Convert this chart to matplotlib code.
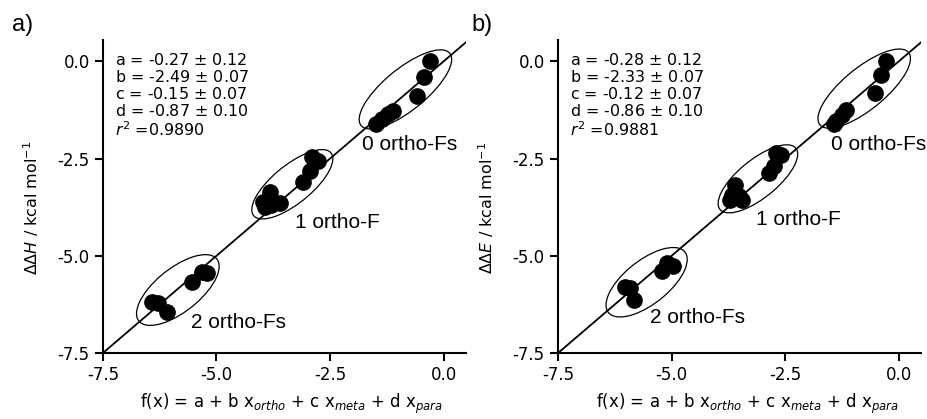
import matplotlib
matplotlib.use("Agg")
import matplotlib.pyplot as plt
import numpy as np
from matplotlib.patches import Ellipse

plt.rcParams['axes.unicode_minus'] = False
plt.rcParams['font.family'] = 'DejaVu Sans'

# fitted f(x) vs computed ddH (panel a)
fx_H = [-0.29, -0.44, -0.59, -1.12, -1.22, -1.35, -1.48,
        -2.90, -2.77, -2.95, -3.10, -3.83, -3.98, -3.79, -3.61, -3.94,
        -5.32, -5.21, -5.54, -6.42, -6.28, -6.09]
ddH = [0.02, -0.39, -0.88, -1.27, -1.36, -1.47, -1.60,
       -2.47, -2.57, -2.83, -3.09, -3.35, -3.61, -3.69, -3.63, -3.74,
       -5.41, -5.44, -5.67, -6.19, -6.21, -6.44]

# fitted f(x) vs computed ddE (panel b)
fx_E = [-0.27, -0.38, -0.53, -1.15, -1.24, -1.39, -1.43,
        -2.71, -2.60, -2.75, -2.86, -3.60, -3.67, -3.52, -3.71, -3.45,
        -5.10, -4.96, -5.21, -6.02, -5.91, -5.82]
ddE = [0.02, -0.34, -0.82, -1.24, -1.37, -1.54, -1.60,
       -2.35, -2.42, -2.70, -2.87, -3.17, -3.43, -3.47, -3.56, -3.56,
       -5.19, -5.26, -5.40, -5.79, -5.83, -6.13]

fit_H = ['a = -0.27 $\\pm$ 0.12', 'b = -2.49 $\\pm$ 0.07',
         'c = -0.15 $\\pm$ 0.07', 'd = -0.87 $\\pm$ 0.10', '$r^2$ =0.9890']
fit_E = ['a = -0.28 $\\pm$ 0.12', 'b = -2.33 $\\pm$ 0.07',
         'c = -0.12 $\\pm$ 0.07', 'd = -0.86 $\\pm$ 0.10', '$r^2$ =0.9881']

groups = ['0 ortho-Fs', '1 ortho-F', '2 ortho-Fs']
ticks = [-7.5, -5.0, -2.5, 0.0]

# group ellipses (cx, cy, long axis, short axis) and label anchors
ell_H = [(-0.84, -0.72, 2.70, 1.00), (-3.33, -3.16, 2.35, 0.92), (-5.85, -5.88, 2.35, 1.05)]
ell_E = [(-0.76, -0.70, 2.70, 1.00), (-3.10, -3.02, 2.30, 0.92), (-5.55, -5.68, 2.30, 1.05)]
lab_H = [(-1.80, -2.29), (-3.28, -4.28), (-5.57, -6.86)]
lab_E = [(-1.50, -2.29), (-3.15, -4.20), (-5.47, -6.73)]

xlabel = 'f(x) = a + b x$_{ortho}$ + c x$_{meta}$ + d x$_{para}$'

fig = plt.figure(figsize=(9.27, 4.19), dpi=100)
ax1 = fig.add_axes([0.111, 0.1575, 0.392, 0.747])
ax2 = fig.add_axes([0.602, 0.1575, 0.392, 0.747])

panels = [(ax1, fx_H, ddH, fit_H, ell_H, lab_H, '$\\Delta\\Delta H$ / kcal mol$^{-1}$'),
          (ax2, fx_E, ddE, fit_E, ell_E, lab_E, '$\\Delta\\Delta E$ / kcal mol$^{-1}$')]

for ax, x, y, fit, ells, labs, ylab in panels:
    lim = np.array([-7.5, 0.5])
    ax.plot(lim, lim, color='black', lw=1.3, zorder=1)
    ax.plot(x, y, 'o', color='black', ms=11, zorder=3)
    for cx, cy, w, h in ells:
        ax.add_patch(Ellipse((cx, cy), w, h, angle=45, fill=False,
                             ec='black', lw=0.9, zorder=2))
    for (tx, ty), g in zip(labs, groups):
        ax.text(tx, ty, g, fontsize=15, family='Liberation Sans',
                ha='left', va='baseline')
    ax.text(0.033, 0.962, '\n'.join(fit), transform=ax.transAxes,
            fontsize=11.4, va='top', ha='left', linespacing=1.08)
    ax.set_xlim(-7.5, 0.5)
    ax.set_ylim(-7.5, 0.55)
    ax.set_xticks(ticks)
    ax.set_yticks(ticks)
    ax.xaxis.set_major_formatter(matplotlib.ticker.FormatStrFormatter('%.1f'))
    ax.yaxis.set_major_formatter(matplotlib.ticker.FormatStrFormatter('%.1f'))
    ax.tick_params(labelsize=12, width=1.5, length=6, direction='out')
    for s in ['top', 'right']:
        ax.spines[s].set_visible(False)
    for s in ['left', 'bottom']:
        ax.spines[s].set_linewidth(1.5)
    ax.set_xlabel(xlabel, fontsize=12)
    ax.set_ylabel(ylab, fontsize=11.5)
    ax.xaxis.set_label_coords(0.52, -0.125)
    ax.yaxis.set_label_coords(-0.17, 0.465)

fig.text(0.013, 0.925, 'a)', fontsize=17, family='Liberation Sans')
fig.text(0.509, 0.925, 'b)', fontsize=17, family='Liberation Sans')

fig.savefig('out.png', dpi=100)
